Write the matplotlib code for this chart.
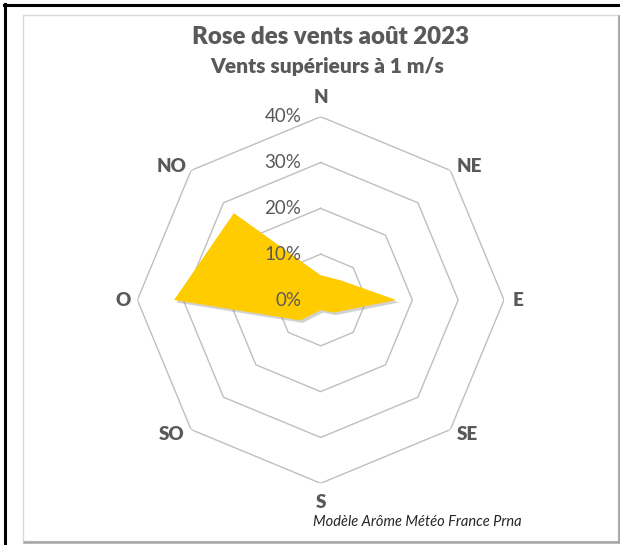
import numpy as np
import matplotlib
matplotlib.use('Agg')
import matplotlib.pyplot as plt
from matplotlib.patches import Rectangle
from matplotlib.lines import Line2D
from matplotlib.transforms import offset_copy

plt.rcParams['font.family'] = ['Lato', 'DejaVu Sans']

# Données : fréquence des vents par direction (%)
directions = ['N', 'NE', 'E', 'SE', 'S', 'SO', 'O', 'NO']
frequences = [5.4, 6.1, 16.5, 3.9, 2.2, 6.3, 32.0, 26.8]
niveaux = [0, 10, 20, 30, 40]
niveaux_labels = ['0%', '10%', '20%', '30%', '40%']

titre = 'Rose des vents août 2023'
sous_titre = 'Vents supérieurs à 1 m/s'
source = 'Modèle Arôme Météo France Prna'

W, H = 620, 545
fig = plt.figure(figsize=(W / 100, H / 100), dpi=100)

# cadre noir (gauche + haut) et cadre du graphique
fig.add_artist(Line2D([5 / W, 5 / W], [0, 1 - 4 / H], color='black', lw=2.2))
fig.add_artist(Line2D([4 / W, 1], [1 - 5 / H, 1 - 5 / H], color='black', lw=2.2))
fig.add_artist(Rectangle((23 / W, 1 - 541 / H), 595 / W, 526 / H,
                         fill=False, edgecolor='#D9D9D9', lw=1.0))
fig.add_artist(Line2D([619 / W, 619 / W], [1 - 542 / H, 1 - 16 / H], color='#A6A6A6', lw=1.8))
fig.add_artist(Line2D([24 / W, 619 / W], [1 - 542 / H, 1 - 542 / H], color='#A6A6A6', lw=1.8))

# axe polaire : centre (320.7, 300), rayon 183.3 px pour 40 %
cx, cy, rr = 320.7, 300, 183.3
ax = fig.add_axes([(cx - rr) / W, (H - cy - rr) / H, 2 * rr / W, 2 * rr / H], projection='polar')
ax.set_theta_zero_location('N')
ax.set_theta_direction(-1)
ax.set_ylim(0, 40)
ax.grid(False)
ax.set_xticks([])
ax.set_yticks([])
ax.spines['polar'].set_visible(False)
ax.patch.set_visible(False)

angles = np.deg2rad(np.arange(0, 360, 45))
angles_c = np.append(angles, angles[0])

# grille octogonale
for niv in niveaux[1:]:
    ax.plot(angles_c, [niv] * len(angles_c), color='#BFBFBF', lw=1.0, zorder=1)

# série (avec ombre portée)
vals = np.append(frequences, frequences[0])
ombre = offset_copy(ax.transData, fig=fig, x=2.5, y=-2.5, units='dots')
ax.fill(angles_c, vals, color='#7F7F7F', alpha=0.35, lw=0, transform=ombre, zorder=2)
ax.fill(angles_c, vals, color='#FFCC00', lw=0, zorder=3)

# étiquettes des niveaux
for niv, lab in zip(niveaux, niveaux_labels):
    ax.annotate(lab, xy=(0, niv), xytext=(-14, 0), textcoords='offset points',
                ha='right', va='center', fontsize=13.5, color='#595959', zorder=4)

# étiquettes des directions (décalages en points, alignement)
decalages = [(0, 14, 'center'), (4.5, 3, 'left'), (6, 0, 'left'), (4.5, -3.5, 'left'),
             (0, -13.5, 'center'), (-4.5, -3.5, 'right'), (-5, 0, 'right'), (-3, 3, 'right')]
for a, d, (dx, dy, ha) in zip(angles, directions, decalages):
    ax.annotate(d, xy=(a, 40), xytext=(dx, dy), textcoords='offset points',
                ha=ha, va='center', fontsize=13.5, fontweight='heavy', color='#595959')

fig.text(330 / W, 1 - 37 / H, titre, ha='center', va='center', fontsize=17.3,
         fontweight='heavy', color='#595959')
fig.text(327.5 / W, 1 - 66.5 / H, sous_titre, ha='center', va='center', fontsize=15,
         fontweight='heavy', color='#595959')
fig.text(313 / W, 1 - 522 / H, source, ha='left', va='center', fontsize=10.5,
         style='italic', color='#262626')

fig.savefig('out.png', dpi=100)
